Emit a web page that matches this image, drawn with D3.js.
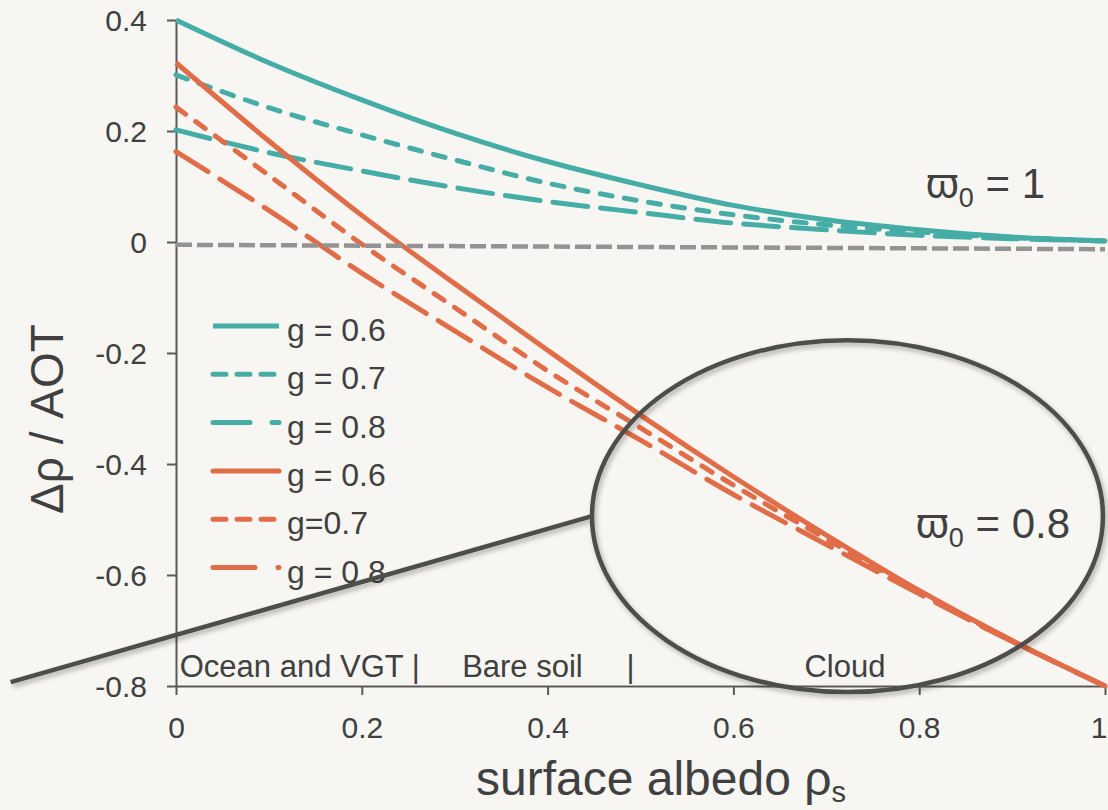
<!DOCTYPE html>
<html>
<head>
<meta charset="utf-8">
<script src="https://cdn.jsdelivr.net/npm/d3@7"></script>
<style>
  html, body { margin: 0; padding: 0; background: #f7f6f2; }
  svg { display: block; font-family: "Liberation Sans", Arial, "DejaVu Sans", sans-serif; }
</style>
</head>
<body>
<svg id="chart" width="1108" height="810"></svg>
<script>
// ---------- data ----------
const albedo = [0, 0.1, 0.2, 0.3, 0.4, 0.5, 0.6, 0.7, 0.8, 0.9, 1.0];

// single-scattering albedo = 1 (teal)
const w1_g06 = [0.400, 0.323, 0.256, 0.196, 0.145, 0.103, 0.066, 0.040, 0.022, 0.009, 0.002];
const w1_g07 = [0.301, 0.242, 0.193, 0.148, 0.106, 0.074, 0.049, 0.031, 0.018, 0.008, 0.002];
const w1_g08 = [0.202, 0.161, 0.128, 0.098, 0.073, 0.053, 0.034, 0.022, 0.012, 0.006, 0.002];

// single-scattering albedo = 0.8 (orange)
const w08_g06 = [0.323, 0.182, 0.048, -0.075, -0.195, -0.312, -0.423, -0.528, -0.628, -0.718, -0.800];
const w08_g07 = [0.243, 0.120, -0.004, -0.118, -0.232, -0.335, -0.438, -0.535, -0.630, -0.719, -0.800];
const w08_g08 = [0.163, 0.057, -0.056, -0.160, -0.262, -0.357, -0.455, -0.545, -0.634, -0.720, -0.800];

// grey reference line
const refX = [0, 1];
const refY = [-0.005, -0.013];

const xTicks = [0, 0.2, 0.4, 0.6, 0.8, 1];
const xTickLabels = ["0", "0.2", "0.4", "0.6", "0.8", "1"];
const yTicks = [0.4, 0.2, 0, -0.2, -0.4, -0.6, -0.8];
const yTickLabels = ["0.4", "0.2", "0", "-0.2", "-0.4", "-0.6", "-0.8"];

const legendLabels = ["g = 0.6", "g = 0.7", "g = 0.8", "g = 0.6", "g=0.7", "g = 0.8"];

const regionTexts = ["Ocean and VGT |", "Bare soil", "|", "Cloud"];
const regionAlbedo = [0.004, 0.308, 0.485, 0.72];

// ---------- setup ----------
const svg = d3.select("#chart");
const W = 1108, H = 810;
const teal = "#45ada6", orange = "#e06d48", grey = "#939393", axisCol = "#5a5a58", textCol = "#404040";

svg.append("rect").attr("width", W).attr("height", H).attr("fill", "#f7f6f2");

const defs = svg.append("defs");
const f = defs.append("filter").attr("id", "shadow").attr("x", "-20%").attr("y", "-20%").attr("width", "140%").attr("height", "140%");
f.append("feDropShadow").attr("dx", 2).attr("dy", 3).attr("stdDeviation", 2.5)
  .attr("flood-color", "#000").attr("flood-opacity", 0.3);

const x = d3.scaleLinear().domain([0, 1]).range([176, 1105]);
const y = d3.scaleLinear().domain([-0.8, 0.4]).range([686, 20]);

// ---------- axes ----------
const yAxis = d3.axisLeft(y).tickValues(yTicks).tickSize(9).tickSizeOuter(0)
  .tickFormat((d, i) => yTickLabels[i]).tickPadding(20);
const gy = svg.append("g").attr("transform", `translate(${x(0)},0)`).call(yAxis);
gy.select(".domain").attr("stroke", axisCol).attr("stroke-width", 2);
gy.selectAll(".tick line").attr("stroke", axisCol).attr("stroke-width", 2);
gy.selectAll(".tick text").attr("fill", textCol).attr("font-size", 30)
  .attr("font-family", "Liberation Sans, Arial, sans-serif").attr("dy", "0.36em");

const xAxis = d3.axisBottom(x).tickValues(xTicks).tickSize(9).tickSizeOuter(0)
  .tickFormat((d, i) => xTickLabels[i]).tickPadding(22);
const gx = svg.append("g").attr("transform", `translate(0,${y(-0.8)})`).call(xAxis);
gx.select(".domain").attr("stroke", axisCol).attr("stroke-width", 2);
gx.selectAll(".tick line").attr("stroke", axisCol).attr("stroke-width", 2);
gx.selectAll(".tick text").attr("fill", textCol).attr("font-size", 30)
  .attr("font-family", "Liberation Sans, Arial, sans-serif");
// last label sits at the right edge: keep it inside the picture
gx.selectAll(".tick text").filter(d => d === 1).attr("text-anchor", "end").attr("x", 2);

// ---------- lines ----------
const line = d3.line().x(d => x(d[0])).y(d => y(d[1])).curve(d3.curveCatmullRom.alpha(0.5));
const dash07 = "12,12.5";
const dash08 = "35,13";

const series = [
  { vals: w1_g06, color: teal, dash: null },
  { vals: w1_g07, color: teal, dash: dash07 },
  { vals: w1_g08, color: teal, dash: dash08 },
  { vals: w08_g06, color: orange, dash: null },
  { vals: w08_g07, color: orange, dash: dash07 },
  { vals: w08_g08, color: orange, dash: "38,14" }
];

series.forEach(s => {
  svg.append("path")
    .datum(albedo.map((a, i) => [a, s.vals[i]]))
    .attr("d", line)
    .attr("fill", "none")
    .attr("stroke", s.color)
    .attr("stroke-width", 5)
    .attr("stroke-linecap", s.dash ? "round" : "butt")
    .attr("stroke-dasharray", s.dash);
});

// grey reference dashed line
svg.append("path")
  .datum(refX.map((a, i) => [a, refY[i]]))
  .attr("d", d3.line().x(d => x(d[0])).y(d => y(d[1])))
  .attr("fill", "none").attr("stroke", grey).attr("stroke-width", 4.5)
  .attr("stroke-dasharray", "16,5");

// ---------- legend ----------
const legendDash = [null, "13,11", "37,22", null, "13,11", "42,23"];
const legendColor = [teal, teal, teal, orange, orange, orange];
const lg = svg.append("g");
legendLabels.forEach((t, i) => {
  const ly = 326 + i * 48.3;
  lg.append("line").attr("x1", 213).attr("x2", 279).attr("y1", ly).attr("y2", ly)
    .attr("stroke", legendColor[i]).attr("stroke-width", 5)
    .attr("stroke-linecap", (i === 0) ? "butt" : "round")
    .attr("stroke-dasharray", legendDash[i]);
  lg.append("text").attr("x", 287).attr("y", ly + 15).attr("font-size", 32)
    .attr("fill", textCol).text(t);
});

// ---------- region labels ----------
regionTexts.forEach((t, i) => {
  svg.append("text").attr("x", x(regionAlbedo[i])).attr("y", 677)
    .attr("font-size", 31).attr("fill", textCol)
    .attr("text-anchor", i === 3 ? "middle" : "start")
    .text(t);
});

// ---------- annotation ellipse and pointer ----------
const ann = svg.append("g").attr("filter", "url(#shadow)");
const ecx = 0.7228, ecy = -0.494, erx = 0.275, ery = 0.317;
ann.append("line")
  .attr("x1", x(-0.178)).attr("y1", y(-0.793))
  .attr("x2", x(ecx - erx)).attr("y2", y(ecy))
  .attr("stroke", "#4e4e4a").attr("stroke-width", 4.5);
ann.append("ellipse")
  .attr("cx", x(ecx)).attr("cy", y(ecy))
  .attr("rx", x(erx) - x(0)).attr("ry", y(0) - y(ery))
  .attr("fill", "none").attr("stroke", "#4e4e4a").attr("stroke-width", 4.5);

// ---------- omega labels ----------
function omegaLabel(px, py, val) {
  const t = svg.append("text").attr("x", px).attr("y", py).attr("font-size", 42).attr("fill", textCol);
  t.append("tspan").text("ϖ");
  t.append("tspan").attr("font-size", 27).attr("dy", 9).text("0");
  t.append("tspan").attr("dy", -9).text(" = " + val);
}
omegaLabel(926, 198, "1");
omegaLabel(916, 538, "0.8");

// ---------- axis titles ----------
svg.append("text").attr("transform", `translate(63,419) rotate(-90)`)
  .attr("text-anchor", "middle").attr("font-size", 46).attr("fill", textCol)
  .text("Δρ / AOT");

const xt = svg.append("text").attr("x", 476).attr("y", 795).attr("font-size", 48).attr("fill", textCol);
xt.append("tspan").text("surface albedo ρ");
xt.append("tspan").attr("font-size", 29).attr("dy", 7).text("s");
</script>
</body>
</html>
